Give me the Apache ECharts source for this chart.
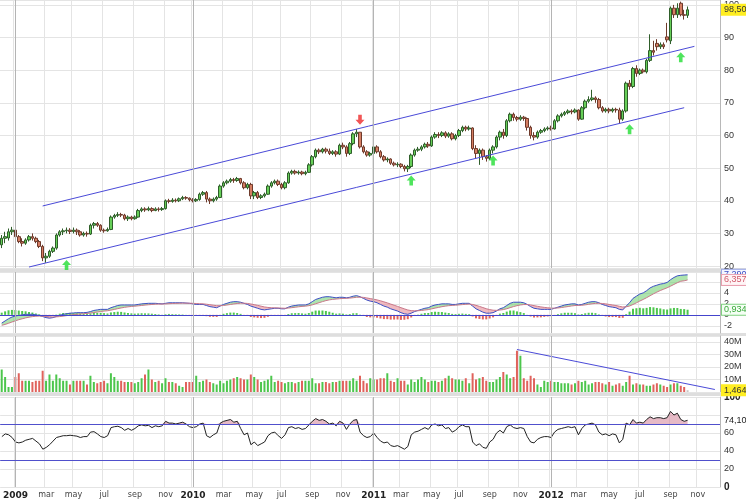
<!DOCTYPE html>
<html><head><meta charset="utf-8">
<script src="https://cdn.jsdelivr.net/npm/echarts@6/dist/echarts.min.js"></script>
<style>html,body{margin:0;padding:0;background:#fff}#c{width:746px;height:500px}</style>
</head><body><div id="c"></div>
<script>
// ---------- data ----------
const startWeek = '2008-12-05';
const weekCount = 211;
const monthNames = ['jan','feb','mar','apr','may','jun','jul','aug','sep','oct','nov','dec'];

// weekly candles: [open, close, low, high]
const ohlc = [
[26.5,28.5,25.5,29.5],[28.5,29.0,27.0,30.5],[28.6,30.5,27.8,31.5],[30.5,31.0,29.5,32.0],[31.0,29.0,28.5,31.5],
[29.0,27.5,27.0,29.5],[27.5,27.0,26.0,28.5],[27.0,28.0,26.5,28.5],[28.0,29.0,27.5,29.5],[29.0,28.5,27.8,30.0],
[28.5,27.5,27.0,29.0],[27.5,26.0,25.5,28.0],[26.0,22.5,21.5,26.5],[22.5,23.0,21.0,24.0],[23.0,24.5,22.5,25.0],
[24.5,25.5,24.0,26.0],[25.5,29.5,25.0,30.0],[29.5,30.5,29.0,31.0],[30.5,30.8,29.5,31.5],[30.8,31.0,30.0,31.8],
[31.0,30.6,29.8,31.6],[30.6,31.0,30.0,31.8],[31.0,30.5,29.5,31.5],[30.5,29.5,29.0,31.0],[29.5,30.0,29.0,30.5],
[30.0,29.8,29.0,30.6],[29.8,32.5,29.5,33.0],[32.5,33.0,31.5,33.5],[33.0,32.5,32.0,33.5],[32.5,31.0,30.5,32.8],
[31.0,30.8,30.2,31.5],[30.8,31.2,30.5,31.8],[31.2,35.0,31.0,35.5],[35.0,35.5,34.5,36.0],[35.5,35.8,35.0,36.5],
[35.8,35.6,35.0,36.3],[35.6,34.5,34.0,36.0],[34.5,35.0,33.8,35.5],[35.0,34.5,34.0,35.4],[34.5,35.0,34.2,35.5],
[35.0,37.0,34.8,37.5],[37.0,37.5,36.5,38.0],[37.5,37.2,36.6,38.0],[37.2,37.6,36.8,38.2],[37.6,37.0,36.5,38.0],
[37.0,37.5,36.8,38.0],[37.5,37.3,36.7,38.0],[37.3,37.6,36.9,38.1],[37.6,40.0,37.3,40.4],[40.0,39.8,39.2,40.6],
[39.8,40.2,39.4,40.8],[40.2,40.0,39.5,40.7],[40.0,40.6,39.6,41.0],[40.6,41.0,40.2,41.5],[41.0,40.8,40.3,41.4],
[40.8,40.3,39.8,41.0],[40.3,40.0,39.5,40.8],[40.0,40.4,39.6,40.8],[40.4,42.0,40.0,42.5],[42.0,42.5,41.5,43.0],
[42.5,40.5,39.5,43.0],[40.5,40.0,39.0,41.0],[40.0,40.5,39.5,41.0],[40.5,41.0,40.0,41.5],[41.0,44.5,40.8,45.0],
[44.5,45.5,44.0,46.0],[45.5,46.0,45.0,46.5],[46.0,46.5,45.5,47.0],[46.5,46.2,45.5,47.0],[46.2,46.8,45.8,47.3],
[46.8,45.5,45.0,47.0],[45.5,44.0,43.5,46.0],[44.0,45.0,43.5,45.5],[45.0,41.5,40.5,45.5],[41.5,42.5,40.5,43.0],
[42.5,41.0,40.5,43.0],[41.0,41.5,40.5,42.0],[41.5,42.0,41.0,42.5],[42.0,44.5,41.8,45.0],[44.5,45.5,44.0,46.0],
[45.5,46.0,45.0,46.5],[46.0,45.0,44.5,46.5],[45.0,44.0,43.5,45.5],[44.0,45.5,43.5,46.0],[45.5,48.5,45.2,49.0],
[48.5,49.0,48.0,49.5],[49.0,48.5,48.0,49.5],[48.5,48.8,48.0,49.3],[48.8,48.3,47.8,49.2],[48.3,48.7,47.8,49.2],
[48.7,51.0,48.5,51.5],[51.0,53.5,50.5,54.0],[53.5,55.5,53.0,56.0],[55.5,55.0,54.3,56.0],[55.0,55.8,54.5,56.2],
[55.8,55.2,54.5,56.3],[55.2,54.5,54.0,56.0],[54.5,55.0,54.0,55.5],[55.0,54.3,53.5,55.5],[54.3,57.0,54.0,57.5],
[57.0,56.5,55.8,57.8],[56.5,54.5,53.5,57.0],[54.5,57.5,54.0,58.0],[57.5,60.5,57.0,61.0],[60.5,61.0,59.5,62.0],
[61.0,56.5,56.0,61.0],[56.5,55.0,54.5,57.0],[55.0,54.0,53.5,55.5],[54.0,54.5,53.5,55.0],[54.5,56.5,54.0,57.0],
[56.5,55.0,54.5,57.0],[55.0,53.5,53.0,55.5],[53.5,52.5,52.0,54.0],[52.5,52.8,51.8,53.3],[52.8,51.5,51.0,53.0],
[51.5,51.0,50.5,52.0],[51.0,51.2,50.3,51.8],[51.2,50.5,50.0,51.5],[50.5,49.8,49.0,51.0],[49.8,50.5,48.8,51.0],
[50.5,54.0,50.0,54.5],[54.0,55.5,53.5,56.0],[55.5,55.8,55.0,56.5],[55.8,56.5,55.2,57.0],[56.5,57.3,56.0,57.8],
[57.3,56.8,56.2,58.0],[56.8,59.5,56.5,60.0],[59.5,60.3,59.0,61.0],[60.3,60.0,59.2,61.0],[60.0,60.8,59.5,61.3],
[60.8,59.8,59.2,61.3],[59.8,60.5,59.3,61.0],[60.5,59.0,58.5,61.0],[59.0,60.0,58.5,60.5],[60.0,61.5,59.5,62.0],
[61.5,62.5,61.0,63.0],[62.5,62.0,61.3,63.0],[62.0,62.3,61.5,63.0],[62.3,56.0,55.5,62.5],[56.0,54.5,53.0,57.0],
[54.5,55.5,51.0,56.0],[55.5,53.5,52.5,56.0],[53.5,53.0,52.0,54.0],[53.0,55.5,52.5,56.0],[55.5,56.5,54.5,57.0],
[56.5,59.5,56.0,60.0],[59.5,61.0,58.5,61.5],[61.0,60.0,59.0,62.0],[60.0,64.5,59.5,65.0],[64.5,66.5,64.0,67.0],
[66.5,65.5,64.5,67.0],[65.5,65.0,64.3,66.0],[65.0,65.6,64.5,66.2],[65.6,65.2,64.5,66.0],[65.2,62.5,61.5,65.5],
[62.5,60.0,59.0,63.0],[60.0,59.5,58.5,61.0],[59.5,61.0,59.0,61.5],[61.0,61.5,60.5,62.0],[61.5,62.0,61.0,62.5],
[62.0,62.3,61.5,62.8],[62.3,62.0,61.5,63.0],[62.0,64.5,61.8,65.0],[64.5,66.0,64.0,66.5],[66.0,66.5,65.5,67.0],
[66.5,67.0,66.0,67.5],[67.0,67.5,66.5,68.0],[67.5,67.2,66.5,68.0],[67.2,67.8,66.8,68.3],[67.8,65.0,64.5,68.0],
[65.0,68.5,64.8,69.0],[68.5,70.5,68.0,71.0],[70.5,71.0,70.0,72.0],[71.0,71.5,70.5,74.0],[71.5,71.0,70.0,72.0],
[71.0,68.5,68.0,71.5],[68.5,67.5,67.0,69.0],[67.5,68.0,67.0,68.5],[68.0,67.5,66.8,68.5],[67.5,68.0,67.0,68.5],
[68.0,67.8,67.0,68.5],[67.8,65.0,63.8,68.5],[65.0,67.5,64.5,68.0],[67.5,76.0,67.0,76.5],[76.0,75.0,74.0,77.0],
[75.0,80.5,74.5,81.0],[80.5,79.0,78.0,81.5],[79.0,80.0,78.5,80.5],[80.0,79.5,79.0,80.5],[79.5,83.0,79.0,83.5],
[83.0,86.0,82.5,91.0],[86.0,85.5,84.5,89.0],[88.2,87.2,86.0,89.5],[87.2,87.8,86.5,88.5],[87.8,87.2,86.5,88.5],
[90.2,89.3,88.5,94.5],[89.0,99.0,88.0,99.5],[99.0,97.0,96.0,100.0],[97.0,99.0,96.0,100.5],[100.5,97.0,96.5,101.0],
[97.0,96.8,95.5,98.5],[96.8,98.5,96.0,99.5]
];

// weekly volume in millions
const volume = [
18,12,4,4,12,15,9,9,9,8, 9,9,17,9,14,9,14,11,9,9, 6,9,9,9,9,6,13,8,7,8, 9,7,15,12,9,9,8,8,8,7,
8,11,14,18,10,8,9,7,11,8, 8,7,5,4,8,8,8,13,8,9, 10,8,7,6,9,7,9,10,11,12, 11,10,10,14,12,10,8,9,10,13,
8,9,8,7,8,8,7,8,9,9, 9,11,7,7,8,8,7,8,8,9, 9,9,9,11,9,13,9,7,11,10, 10,11,11,15,9,8,11,9,9,6,
10,8,10,12,10,8,9,9,8,9, 11,13,11,10,10,9,11,7,15,10, 11,12,9,8,8,10,12,16,14,11, 12,33,29,11,9,13,11,6,4,9,
8,9,8,8,7,7,7,6,7,9, 8,9,6,7,8,8,7,6,8,5, 6,7,5,8,13,6,7,6,6,5, 5,6,7,6,5,4,6,7,7,5, 4,1.464
];

const macd = [
-1.5,-1.1,-0.7,-0.4,-0.2,-0.1,0,0.1,0.1,0.1, 0,-0.1,-0.3,-0.5,-0.6,-0.5,-0.3,-0.1,0.1,0.2,
0.3,0.35,0.4,0.4,0.4,0.45,0.6,0.8,0.9,1.0, 1.0,1.0,1.3,1.5,1.7,1.8,1.8,1.8,1.8,1.8,
1.9,2.0,2.05,2.1,2.1,2.1,2.05,2.0,2.1,2.2, 2.2,2.2,2.2,2.2,2.15,2.1,2.0,1.9,1.9,1.9,
1.7,1.5,1.4,1.3,1.6,1.9,2.1,2.3,2.4,2.4, 2.3,2.1,1.9,1.6,1.4,1.2,1.0,0.9,1.0,1.1,
1.2,1.2,1.1,1.1,1.4,1.6,1.7,1.8,1.8,1.8, 2.0,2.4,2.8,3.0,3.2,3.3,3.3,3.2,3.1,3.2,
3.2,3.1,3.2,3.4,3.5,3.3,3.0,2.7,2.5,2.4, 2.2,1.9,1.6,1.4,1.1,0.9,0.7,0.4,0.2,0.1,
0.3,0.6,0.8,1.0,1.2,1.3,1.6,1.8,1.9,2.0, 2.0,2.0,1.9,1.9,2.0,2.1,2.1,2.1,1.6,1.1,
0.8,0.5,0.3,0.3,0.4,0.7,1.1,1.3,1.7,2.1, 2.3,2.3,2.3,2.2,1.9,1.5,1.2,1.1,1.0,1.0,
1.0,1.0,1.2,1.4,1.6,1.8,1.9,2.0,2.0,1.8, 1.9,2.1,2.3,2.4,2.4,2.2,1.9,1.7,1.5,1.4,
1.3,1.0,0.9,1.6,2.2,3.0,3.4,3.8,4.0,4.4, 4.9,5.2,5.4,5.6,5.7,5.9,6.4,6.8,7.1,7.2, 7.25,7.29
];
const signal = [
-1.9,-1.74,-1.53,-1.3,-1.08,-0.88,-0.71,-0.55,-0.42,-0.32, -0.25,-0.22,-0.24,-0.29,-0.35,-0.38,-0.36,-0.31,-0.23,-0.14,
-0.05,0.03,0.1,0.16,0.21,0.26,0.33,0.42,0.52,0.62, 0.69,0.75,0.86,0.99,1.13,1.26,1.37,1.46,1.53,1.58,
1.64,1.71,1.78,1.84,1.89,1.94,1.96,1.97,1.99,2.03, 2.07,2.09,2.11,2.13,2.13,2.12,2.1,2.06,2.03,2.0,
1.94,1.85,1.76,1.67,1.66,1.71,1.79,1.89,1.99,2.07, 2.12,2.12,2.08,1.98,1.86,1.73,1.58,1.44,1.35,1.3,
1.28,1.26,1.23,1.2,1.24,1.31,1.39,1.47,1.54,1.59, 1.67,1.82,2.02,2.21,2.41,2.59,2.73,2.82,2.88,2.94,
2.99,3.01,3.05,3.12,3.2,3.22,3.18,3.08,2.96,2.85, 2.72,2.56,2.37,2.18,1.96,1.75,1.54,1.31,1.09,0.89,
0.77,0.74,0.75,0.8,0.88,0.96,1.09,1.23,1.36,1.49, 1.59,1.67,1.72,1.76,1.81,1.87,1.92,1.96,1.89,1.73,
1.54,1.33,1.12,0.96,0.85,0.82,0.88,0.96,1.11,1.31, 1.51,1.67,1.8,1.88,1.88,1.8,1.68,1.56,1.45,1.36,
1.29,1.23,1.22,1.26,1.33,1.42,1.52,1.62,1.7,1.72, 1.75,1.82,1.92,2.02,2.09,2.11,2.07,2.0,1.9,1.8,
1.7,1.56,1.43,1.46,1.61,1.89,2.19,2.51,2.81,3.13, 3.48,3.83,4.14,4.43,4.68,4.93,5.22,5.54,5.85,6.12, 6.2,6.357
];
const hist = [
0.4,0.64,0.83,0.9,0.88,0.78,0.71,0.65,0.52,0.42, 0.25,0.12,-0.06,-0.21,-0.25,-0.12,0.06,0.21,0.33,0.34,
0.35,0.32,0.3,0.24,0.19,0.19,0.27,0.38,0.38,0.38, 0.31,0.25,0.44,0.51,0.57,0.54,0.43,0.34,0.27,0.22,
0.26,0.29,0.27,0.26,0.21,0.16,0.09,0.03,0.11,0.17, 0.13,0.11,0.09,0.07,0.02,-0.02,-0.1,-0.16,-0.13,-0.1,
-0.24,-0.35,-0.36,-0.37,-0.06,0.19,0.31,0.41,0.41,0.33, 0.18,-0.02,-0.18,-0.38,-0.46,-0.53,-0.58,-0.54,-0.35,-0.2,
-0.08,-0.06,-0.13,-0.1,0.16,0.29,0.31,0.33,0.26,0.21, 0.33,0.58,0.78,0.79,0.79,0.71,0.57,0.38,0.22,0.26,
0.21,0.09,0.15,0.28,0.3,0.08,-0.18,-0.38,-0.46,-0.45, -0.52,-0.66,-0.77,-0.78,-0.86,-0.85,-0.84,-0.91,-0.89,-0.79,
-0.47,-0.14,0.05,0.2,0.32,0.34,0.51,0.57,0.54,0.51, 0.41,0.33,0.18,0.14,0.19,0.23,0.18,0.14,-0.29,-0.63,
-0.74,-0.83,-0.82,-0.66,-0.45,-0.12,0.22,0.34,0.59,0.79, 0.79,0.63,0.5,0.32,0.02,-0.3,-0.48,-0.46,-0.45,-0.36,
-0.29,-0.23,-0.02,0.14,0.27,0.38,0.38,0.38,0.3,0.08, 0.15,0.28,0.38,0.38,0.31,0.09,-0.17,-0.3,-0.4,-0.4,
-0.4,-0.56,-0.53,0.14,0.59,1.11,1.21,1.29,1.19,1.27, 1.42,1.37,1.26,1.17,1.02,0.97,1.18,1.26,1.25,1.08, 1.05,0.934
];
const rsi = [
56,59,58,55,50,49,50,52,53,54, 51,48,42,44,47,51,55,56,57,57, 57.5,57,56.5,55,56,56,61,61.5,59,56,
55,57,66,67,67.5,66,63,65,63,65, 68,69,68,68.5,66,68,67,68,73,71, 71,70,71,72,70,67,66,67,70,71,
57,55,58,60,71,73,74,75,72,73, 65,58,60,47,50,46,48,50,57,60, 61,57,54,58,66,67,65,66,64,65,
69,73,76,74,75,73,70,71,68,73, 71,64,70,74,75,61,57,55,56,60, 55,51,49,50,46,45,46,44,42,45,
58,61,62,64,66,64,69,70,68,69, 65,66,61,63,67,69,67,67,50,46, 48,44,43,50,53,60,63,60,67,69,
66,65,66,65,56,50,49,53,55,56, 56,55,61,64,65,66,67,66,67,58, 65,69,70,71,69,61,58,59,57,59,
58,49,53,71,69,75,71,72,71,75, 78,76,77,77,76,77,84,80,82,75, 73,74.104
];

// trend lines [weekIndex, value]
const upperChannel = [[12, 38.4], [203, 87.3]];
const lowerChannel = [[8, 19.7], [200, 68.5]];
const volumeTrend = [[151, 34], [209, 2]];
const buyArrows = [[19, 20.3], [120, 46.2], [144, 52.3], [184, 61.9], [199, 84.0]];
const sellArrows = [[105, 64.8]];

// last-value tags
const lastPrice = {value: 98.5, text: '98,50'};
const lastMacd = {value: 7.29, text: '7,290'};
const lastSignal = {value: 6.357, text: '6,357'};
const lastHist = {value: 0.934, text: '0,934'};
const lastVolume = {value: 1.464, text: '1,464'};
const lastRsi = {value: 74.104, text: '74,104'};
const rsiLevels = [70, 30];
const rsiOverbought = 70;

// ---------- build ----------
const categories = [];
(function(){
  const d0 = Date.UTC(+startWeek.slice(0,4), +startWeek.slice(5,7)-1, +startWeek.slice(8,10));
  for (let i = 0; i < weekCount; i++) categories.push(new Date(d0 + i*7*86400000).toISOString().slice(0,10));
})();
const monthOf = i => +categories[i].slice(5,7) - 1;
const isTick = i => i > 0 && monthOf(i) !== monthOf(i-1) && monthOf(i) % 2 === 0;
const yearStarts = categories.filter((c,i) => i > 0 && monthOf(i) === 0 && monthOf(i-1) !== 0);

const GREEN = '#4cc64c', RED = '#e0625c';
const FONT = 'Liberation Sans';

function xAxis(gridIndex, showLabels) {
  return {
    type: 'category', gridIndex, data: categories, boundaryGap: true,
    axisLine: {show: false}, axisTick: {show: false},
    axisLabel: {
      show: showLabels, interval: (i) => isTick(i), margin: 4,
      fontFamily: 'DejaVu Sans', fontSize: 8, color: '#444',
      formatter: (v) => { const m = +v.slice(5,7) - 1; return m === 0 ? '{y|' + v.slice(0,4) + '}' : monthNames[m]; },
      rich: {y: {fontFamily: 'DejaVu Sans', fontWeight: 'bold', fontSize: 9, color: '#222'}}
    },
    splitLine: {show: true, interval: (i) => isTick(i), lineStyle: {color: '#e4e4e4', width: 1}}
  };
}
function yAxis(gridIndex, min, max, splitNumber, extra) {
  return Object.assign({
    type: 'value', gridIndex, position: 'right', min, max, splitNumber,
    axisLine: {show: true, lineStyle: {color: '#b8b8b8'}}, axisTick: {show: false},
    axisLabel: {showMinLabel: false, showMaxLabel: false, fontFamily: FONT, fontSize: 9, color: '#333', margin: 4},
    splitLine: {show: true, lineStyle: {color: '#e4e4e4'}}
  }, extra || {});
}
function tag(t, color, bg, border) {
  return {
    yAxis: t.value, lineStyle: {width: 0, color: 'rgba(0,0,0,0)'},
    label: {show: true, position: 'end', distance: 2, formatter: t.text, fontFamily: FONT, fontSize: 9, opacity: 1,
      color: color, backgroundColor: bg, borderColor: border || bg, borderWidth: 1, padding: [1, 2, 0, 2]}
  };
}
const yearLines = (xi, yi) => ({
  type: 'line', xAxisIndex: xi, yAxisIndex: yi, data: [], silent: true,
  markLine: {silent: true, symbol: ['none','none'], animation: false, label: {show: false},
    lineStyle: {color: '#b4b4b4', width: 1, type: 'solid'},
    data: yearStarts.map(c => ({xAxis: c}))}
});
const arrowPath = 'path://M5,0L10,5L7,5L7,10L3,10L3,5L0,5Z';

const option = {
  animation: false,
  backgroundColor: '#fff',
  grid: [
    {left: 0, right: 26, top: 0, height: 268},
    {left: 0, right: 26, top: 272, height: 61},
    {left: 0, right: 26, top: 336, height: 56},
    {left: 0, right: 26, top: 397, height: 90}
  ],
  xAxis: [xAxis(0, false), xAxis(1, false), xAxis(2, false), xAxis(3, true)],
  yAxis: [
    yAxis(0, 19.4, 101.5, 8),
    yAxis(1, -3.3, 7.8, 5),
    yAxis(2, 0, 44.8, 4, {axisLabel: {showMinLabel: false, showMaxLabel: false, fontFamily: FONT, fontSize: 9, color: '#333', margin: 4, formatter: v => v + 'M'}}),
    yAxis(3, 0, 100, 5, {interval: 20, axisLabel: {fontFamily: FONT, fontSize: 9, color: '#333', margin: 4,
      formatter: v => (v === 0 || v === 100) ? '{b|' + v + '}' : (v === 80 ? '' : String(v)),
      rich: {b: {fontWeight: 'bold', fontFamily: FONT, fontSize: 10, color: '#222'}}}})
  ],
  graphic: [
    {type: 'rect', silent: true, shape: {x: 0, y: 268, width: 746, height: 4}, style: {fill: '#dedede'}},
    {type: 'rect', silent: true, shape: {x: 0, y: 333, width: 746, height: 3}, style: {fill: '#dedede'}},
    {type: 'rect', silent: true, shape: {x: 0, y: 393, width: 746, height: 3}, style: {fill: '#dedede'}}
  ],
  series: [
    {
      type: 'candlestick', xAxisIndex: 0, yAxisIndex: 0, data: ohlc, barWidth: 3, clip: false,
      itemStyle: {color: '#66cf58', color0: '#d57e63', borderColor: '#2f5e2a', borderColor0: '#6e3a2b', borderWidth: 1},
      markLine: {
        silent: true, symbol: ['none','none'], animation: false,
        lineStyle: {color: '#4a4ad8', width: 1, type: 'solid'}, label: {show: false},
        data: [
          [{coord: upperChannel[0]}, {coord: upperChannel[1]}],
          [{coord: lowerChannel[0]}, {coord: lowerChannel[1]}],
          tag(lastPrice, '#333', '#ffee22')
        ]
      }
    },
    {type: 'scatter', xAxisIndex: 0, yAxisIndex: 0, data: buyArrows, symbol: arrowPath, symbolSize: [9, 10],
      itemStyle: {color: '#22dd33'}, silent: true},
    {type: 'scatter', xAxisIndex: 0, yAxisIndex: 0, data: sellArrows, symbol: arrowPath, symbolRotate: 180, symbolSize: [9, 10],
      itemStyle: {color: '#ee2a2a'}, silent: true},
    {type: 'line', xAxisIndex: 1, yAxisIndex: 1, stack: 'band', stackStrategy: 'all', symbol: 'none', silent: true,
      data: macd.map((m, i) => Math.min(m, signal[i])), lineStyle: {width: 0}},
    {type: 'line', xAxisIndex: 1, yAxisIndex: 1, stack: 'band', stackStrategy: 'all', symbol: 'none', silent: true,
      data: macd.map((m, i) => Math.max(m - signal[i], 0)), lineStyle: {width: 0}, areaStyle: {color: 'rgba(120,210,120,0.6)', opacity: 1}},
    {type: 'line', xAxisIndex: 1, yAxisIndex: 1, stack: 'band', stackStrategy: 'all', symbol: 'none', silent: true,
      data: macd.map((m, i) => Math.max(signal[i] - m, 0)), lineStyle: {width: 0}, areaStyle: {color: 'rgba(230,140,150,0.6)', opacity: 1}},
    {type: 'bar', xAxisIndex: 1, yAxisIndex: 1, data: hist, barWidth: 2, silent: true,
      itemStyle: {color: p => p.value >= 0 ? GREEN : RED},
      markLine: {silent: true, symbol: ['none','none'], animation: false, label: {show: false},
        lineStyle: {color: '#4444cc', width: 1, type: 'solid'},
        data: [{yAxis: 0}, tag(lastHist, '#3aa83a', '#f4fff4', '#7fd07f')]}},
    {type: 'line', xAxisIndex: 1, yAxisIndex: 1, data: macd, symbol: 'none', silent: true,
      lineStyle: {color: '#3c4fc4', width: 1},
      markLine: {silent: true, symbol: ['none','none'], animation: false, data: [tag(lastMacd, '#3c4fc4', '#f4f6ff', '#9aa6e6')]}},
    {type: 'line', xAxisIndex: 1, yAxisIndex: 1, data: signal, symbol: 'none', silent: true,
      lineStyle: {color: '#c9788a', width: 1},
      markLine: {silent: true, symbol: ['none','none'], animation: false, data: [tag(lastSignal, '#d05a6a', '#fff4f6', '#e8a0b0')]}},
    {type: 'bar', xAxisIndex: 2, yAxisIndex: 2, barWidth: 2, silent: true,
      data: volume.map((v, i) => ({value: v, itemStyle: {color: i === volume.length - 1 ? '#c8c8c8' : (ohlc[i][1] >= ohlc[i][0] ? GREEN : RED)}})),
      markLine: {silent: true, symbol: ['none','none'], animation: false, label: {show: false},
        lineStyle: {color: '#4a4ad8', width: 1, type: 'solid'},
        data: [[{coord: volumeTrend[0]}, {coord: volumeTrend[1]}], tag(lastVolume, '#333', '#ffee22')]}},
    yearLines(0, 0), yearLines(1, 1), yearLines(2, 2), yearLines(3, 3),
    {type: 'line', xAxisIndex: 3, yAxisIndex: 3, data: rsi.map(v => Math.max(v, rsiOverbought)), symbol: 'none', silent: true,
      lineStyle: {width: 0}, areaStyle: {origin: rsiOverbought, color: 'rgba(214,140,160,0.6)', opacity: 1}},
    {type: 'line', xAxisIndex: 3, yAxisIndex: 3, data: rsi, symbol: 'none', silent: true,
      lineStyle: {color: '#222', width: 1}, z: 4,
      markLine: {silent: true, symbol: ['none','none'], animation: false, label: {show: false},
        lineStyle: {color: '#5050cc', width: 1, type: 'solid'},
        data: rsiLevels.map(v => ({yAxis: v})).concat([tag(lastRsi, '#222', '#ffffff')])}}
  ]
};

const chart = echarts.init(document.getElementById('c'), null, {renderer: 'canvas'});
chart.setOption(option);
</script>
</body></html>
